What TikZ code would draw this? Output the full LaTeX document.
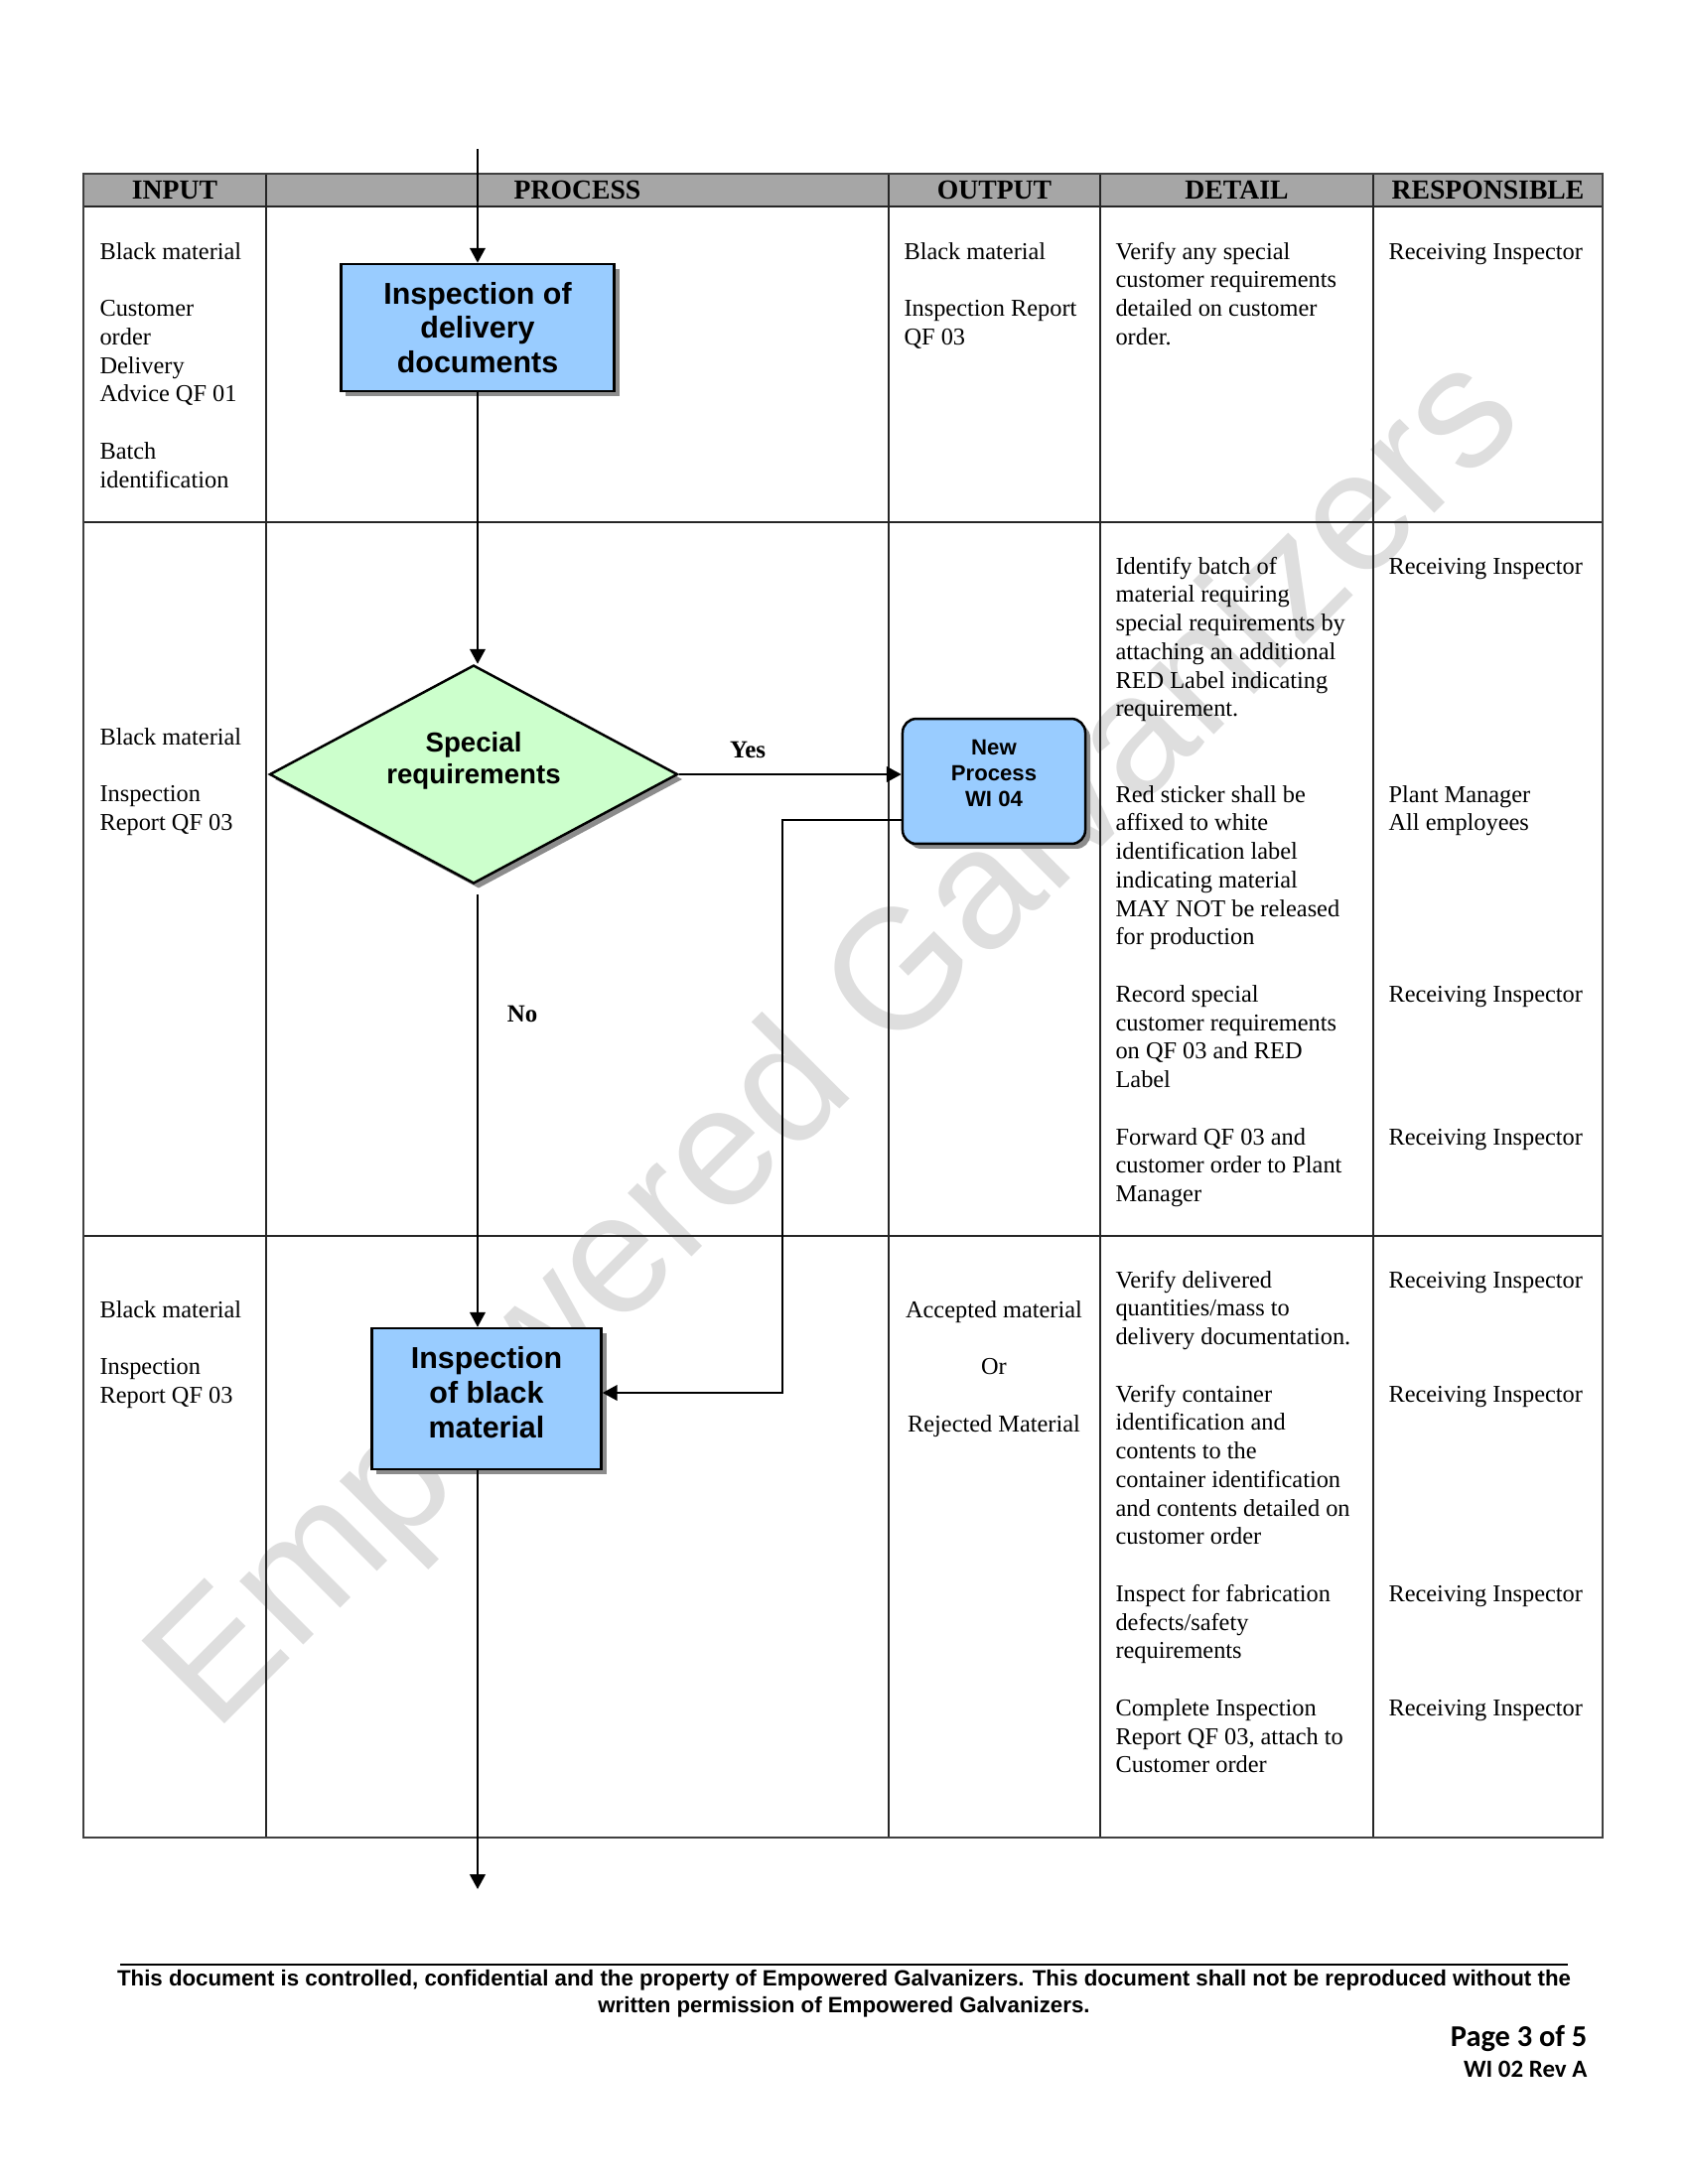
\documentclass[tikz,border=0pt]{standalone}
\usepackage{fontspec}
\setmainfont{Liberation Serif}
\setsansfont{Liberation Sans}
\newfontfamily\pagefont{Carlito}
\usetikzlibrary{shapes.geometric,arrows.meta,shadows}
\definecolor{boxblue}{HTML}{99CCFF}
\definecolor{diagreen}{HTML}{CCFFCC}
\definecolor{headgray}{HTML}{A6A6A6}
\newcommand\leftlines[1]{\begin{tabular}[t]{@{}l@{}}#1\end{tabular}}
\newcommand\midlines[1]{\begin{tabular}[t]{@{}c@{}}#1\end{tabular}}

\begin{document}
\begin{tikzpicture}[x=0.36135pt, y=-0.36135pt,
    cell/.style={anchor=base west, inner sep=0pt, font=\fontsize{8.8}{10.39}\selectfont},
    head/.style={anchor=base, inner sep=0pt, font=\fontsize{10}{12}\selectfont\bfseries},
    grid/.style={line width=0.55pt, black!85},
    frame/.style={line width=0.8pt, black!75},
    proc/.style={draw, line width=0.9pt, fill=boxblue, align=center, inner sep=0pt,
      drop shadow={shadow xshift=1.8pt, shadow yshift=-1.8pt, fill=black!45, opacity=1}},
    decision/.style={diamond, draw, line width=0.9pt, fill=diagreen, align=center, inner sep=0pt,
      aspect=1.87, minimum width=148.5pt, minimum height=79.5pt, text depth=12pt,
      font=\sffamily\bfseries\fontsize{10}{11.6}\selectfont,
      drop shadow={shadow xshift=1.8pt, shadow yshift=-1.8pt, fill=black!45, opacity=1}},
    flow/.style={line width=0.9pt, -{Triangle[length=5.4pt,width=5.6pt]}},
    lbl/.style={anchor=base, inner sep=0pt, font=\fontsize{9}{10}\selectfont\bfseries},
    wmark/.style={rotate=45, text=black!13, inner sep=0pt, font=\sffamily\fontsize{62}{62}\selectfont}]
  \useasboundingbox (0,0) rectangle (1700,2200);
  \fill[white] (0,0) rectangle (1700,2200);

  \node[wmark] (wm) at (846,1054) {Empowered Galvanizers};

  \fill[headgray] (84,175) rectangle (1614,208);
  \draw[grid] (84,208) -- (1614,208) (84,526) -- (1614,526) (84,1245) -- (1614,1245);
  \foreach \x in {268,895,1108,1383} \draw[grid] (\x,175) -- (\x,1851);
  \draw[frame] (84,175) rectangle (1614,1851);
  \foreach \x/\t/\n in {176/INPUT/hin, 581.5/PROCESS/hproc, 1001.5/OUTPUT/hout, 1245.5/DETAIL/hdet, 1498.5/RESPONSIBLE/hres}
    \node[head] (\n) at (\x,200.5) {\t};

  \node[cell] (in1) at (100,261) {\leftlines{Black material\\[10.39pt]Customer\\order\\Delivery\\Advice QF 01\\[10.39pt]Batch\\identification}};
  \node[cell] (out1) at (910,261) {\leftlines{Black material\\[10.39pt]Inspection Report\\QF 03}};
  \node[cell] (det1) at (1123,261) {\leftlines{Verify any special\\customer requirements\\detailed on customer\\order.}};
  \node[cell] (res1) at (1398,261) {Receiving Inspector};

  \node[cell] (in2) at (100,750) {\leftlines{Black material\\[10.39pt]Inspection\\Report QF 03}};
  \node[cell] (det2) at (1123,578) {\leftlines{Identify batch of\\material requiring\\special requirements by\\attaching an additional\\RED Label indicating\\requirement.\\[20.78pt]Red sticker shall be\\affixed to white\\identification label\\indicating material\\MAY NOT be released\\for production\\[10.39pt]Record special\\customer requirements\\on QF 03 and RED\\Label\\[10.39pt]Forward QF 03 and\\customer order to Plant\\Manager}};
  \node[cell] (res2) at (1398,578) {\leftlines{Receiving Inspector\\[72.73pt]Plant Manager\\All employees\\[51.95pt]Receiving Inspector\\[41.56pt]Receiving Inspector}};

  \node[cell] (in3) at (100,1327) {\leftlines{Black material\\[10.39pt]Inspection\\Report QF 03}};
  \node[cell, anchor=base] (out3) at (1001,1327) {\midlines{Accepted material\\[10.39pt]Or\\[10.39pt]Rejected Material}};
  \node[cell] (det3) at (1123,1297) {\leftlines{Verify delivered\\quantities/mass to\\delivery documentation.\\[10.39pt]Verify container\\identification and\\contents to the\\container identification\\and contents detailed on\\customer order\\[10.39pt]Inspect for fabrication\\defects/safety\\requirements\\[10.39pt]Complete Inspection\\Report QF 03, attach to\\Customer order}};
  \node[cell] (res3) at (1398,1297) {\leftlines{Receiving Inspector\\[31.17pt]Receiving Inspector\\[62.34pt]Receiving Inspector\\[31.17pt]Receiving Inspector}};

  \coordinate (start) at (481,150);
  \coordinate (end) at (481,1903);
  \coordinate (loop) at (788,826);
  \coordinate (loopb) at (788,1403);
  \node[proc, minimum width=99.4pt, minimum height=46.3pt, font=\sffamily\bfseries\fontsize{11}{12.4}\selectfont] (deliv) at (481,330) {Inspection of\\delivery\\documents};
  \node[decision] (spec) at (477,780) {Special\\requirements};
  \node[proc, rounded corners=5pt, minimum width=66.5pt, minimum height=45.5pt, text depth=6pt, font=\sffamily\bfseries\fontsize{8}{9.3}\selectfont] (newproc) at (1001,787) {New\\Process\\WI 04};
  \node[proc, minimum width=83.5pt, minimum height=51.3pt, text depth=5pt, font=\sffamily\bfseries\fontsize{11}{12.6}\selectfont] (black) at (490,1409) {Inspection\\of black\\material};

  \draw[flow] (start) -- (start |- deliv.north);
  \draw[flow] (deliv.south -| start) -- (start |- spec.north);
  \draw[flow] ([yshift=-3.6pt]spec.south -| start) -- (start |- black.north);
  \draw[flow] (black.south -| start) -- (end);
  \draw[flow] (spec.east) -- (spec.east -| newproc.west);
  \draw[flow] (loop -| newproc.west) -- (loop) -- (loopb) -- (loopb -| black.east);
  \node[lbl] (yes) at (753,763) {Yes};
  \node[lbl] (no) at (526,1029) {No};

  \draw[line width=0.7pt] (121,1979) -- (1579,1979);
  \node[anchor=base, inner sep=0pt, font=\sffamily\bfseries\fontsize{8.05}{9.75}\selectfont] (note) at (850,2000)
    {\midlines{This document is controlled, confidential and the property of Empowered Galvanizers. This document shall not be reproduced without the\\written permission of Empowered Galvanizers.}};
  \node[anchor=base east, inner sep=0pt, font=\pagefont\bfseries\fontsize{11}{13}\selectfont] (page) at (1599,2061) {Page 3 of 5};
  \node[anchor=base east, inner sep=0pt, font=\pagefont\bfseries\fontsize{9}{11}\selectfont] (rev) at (1599,2092) {WI 02 Rev A};
\end{tikzpicture}
\end{document}
